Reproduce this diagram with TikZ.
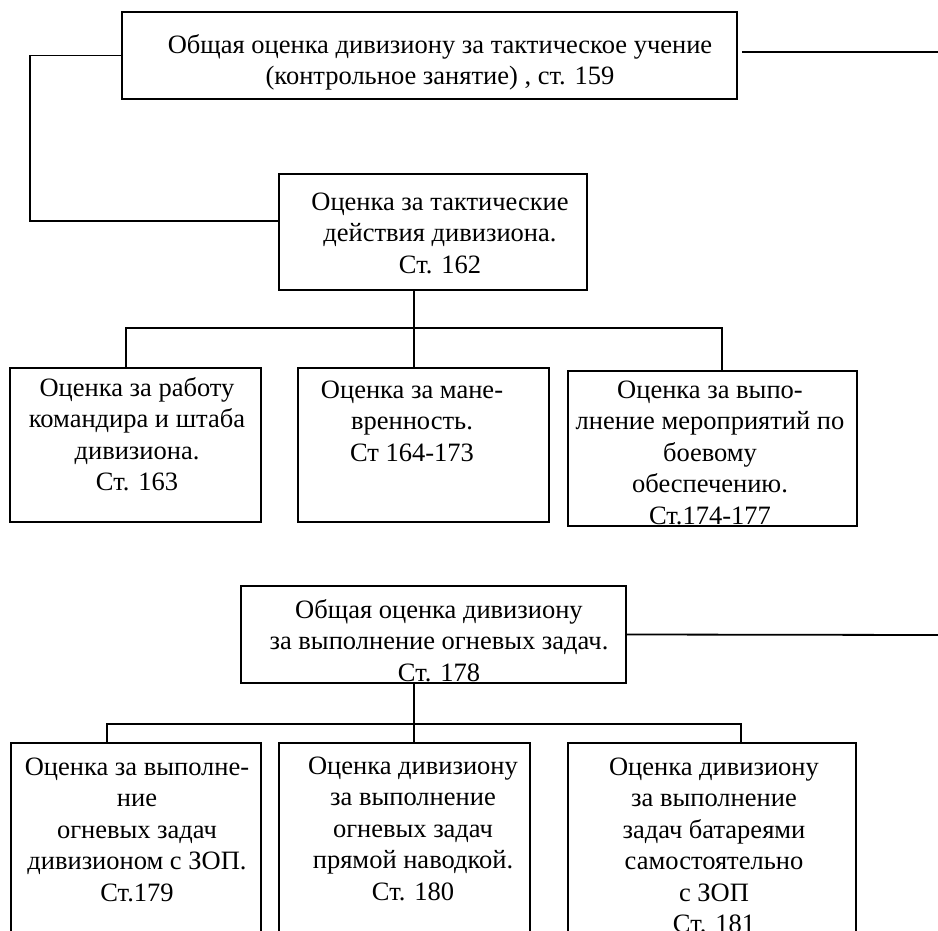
\documentclass[tikz,border=0pt]{standalone}
\usepackage{fontspec}
\setmainfont{Liberation Serif}
\newcommand\boxfont{\fontsize{26.5}{31.5}\selectfont}
\tikzset{
  bx/.style={draw, line width=1.8pt, inner sep=0pt, rectangle},
  tx/.style={anchor=north, inner sep=0pt, align=center, font=\boxfont},
  ln/.style={line width=1.8pt},
}
\begin{document}
\begin{tikzpicture}[x=1pt,y=-1pt]
\useasboundingbox (0,0) rectangle (938,931);
\clip (0,0) rectangle (938,931);
% boxes
\node[bx, minimum width=615, minimum height=87]  (b1)  at (429.5,55.5) {};
\node[bx, minimum width=308, minimum height=116] (b2)  at (433,232) {};
\node[bx, minimum width=251, minimum height=154] (bA)  at (135.5,445) {};
\node[bx, minimum width=251, minimum height=154] (bB)  at (423.5,445) {};
\node[bx, minimum width=289, minimum height=155] (bC)  at (712.5,448.5) {};
\node[bx, minimum width=385, minimum height=97]  (bD)  at (433.5,634.5) {};
\node[bx, minimum width=250, minimum height=217] (bE1) at (136,851.5) {};
\node[bx, minimum width=251, minimum height=217] (bE2) at (404.5,851.5) {};
\node[bx, minimum width=288, minimum height=217] (bE3) at (712,851.5) {};
% texts
\node[tx] (t1) at (440,53-22.05) {\strut Общая оценка дивизиону за тактическое учение\\(контрольное занятие) , ст. 159};
\node[tx] (t2) at (440,210-22.05) {\strut Оценка за тактические\\действия дивизиона.\\Ст. 162};
\node[tx] (tA) at (137,396-22.05) {\strut Оценка за работу\\командира и штаба\\дивизиона.\\Ст. 163};
\node[tx] (tB) at (412,398-22.05) {\strut Оценка за мане-\\вренность.\\Ст 164-173};
\node[tx] (tC) at (710,398-22.05) {\strut Оценка за выпо-\\лнение мероприятий по\\боевому\\обеспечению.\\Ст.174-177};
\node[tx] (tD) at (439,618-22.05) {\strut Общая оценка дивизиону\\за выполнение огневых задач.\\Ст. 178};
\node[tx] (tE1) at (137,775-22.05) {\strut Оценка за выполне-\\ние\\огневых задач\\дивизионом с ЗОП.\\Ст.179};
\node[tx] (tE2) at (413,774-22.05) {\strut Оценка дивизиону\\за выполнение\\огневых задач\\прямой наводкой.\\Ст. 180};
\node[tx] (tE3) at (714,775-22.05) {\strut Оценка дивизиону\\за выполнение\\задач батареями\\самостоятельно\\с ЗОП\\Ст. 181};
% connectors
\coordinate (lk) at (30,150);
\draw[ln] (b1.west) -| (lk) |- ([yshift=11pt]b2.west);
\coordinate (r1) at (938,52);
\draw[ln] ([xshift=4pt,yshift=3.5pt]b1.east) -- (r1);
\coordinate (j1) at (414,328);
\coordinate (ja) at (126,328);
\coordinate (jc) at (722,328);
\draw[ln] (j1 |- b2.south) -- (j1 |- bB.north);
\draw[ln] (ja |- bA.north) -- (ja) -- (jc) -- (jc |- bC.north);
\coordinate (r2) at (938,635);
\draw[ln] (bD.east) -- (r2);
\coordinate (j2) at (414,724);
\coordinate (k1) at (107,724);
\coordinate (k3) at (741,724);
\draw[ln] (j2 |- bD.south) -- (j2 |- bE2.north);
\draw[ln] (k1 |- bE1.north) -- (k1) -- (k3) -- (k3 |- bE3.north);
\end{tikzpicture}
\end{document}
